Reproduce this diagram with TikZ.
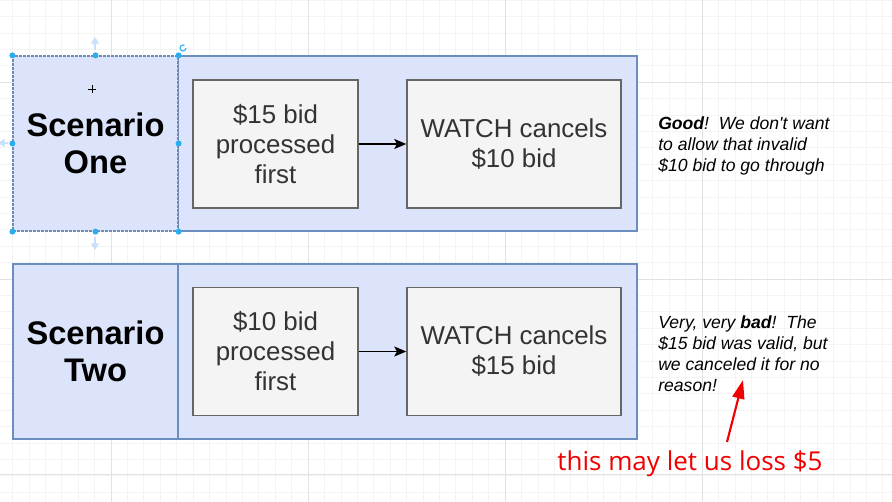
\documentclass[tikz,border=0pt]{standalone}
\usepackage{fontspec}
\setmainfont{Liberation Sans}
\newfontfamily\redfont{Open Sans}
\usetikzlibrary{arrows.meta}
\definecolor{cfill}{RGB}{219,228,250}
\definecolor{cdraw}{RGB}{108,142,191}
\definecolor{bfill}{RGB}{244,244,244}
\definecolor{bdraw}{RGB}{102,102,102}
\definecolor{btext}{RGB}{51,51,51}
\definecolor{gmin}{RGB}{244,244,244}
\definecolor{gmaj}{RGB}{226,226,226}
\definecolor{handle}{RGB}{41,172,240}
\definecolor{handlelt}{RGB}{200,225,250}
\definecolor{redtxt}{RGB}{240,0,0}
\begin{document}
\begin{tikzpicture}[x=0.75pt,y=-0.75pt,
  labelcell/.style={draw=cdraw, fill=cfill, line width=1.1pt, inner sep=0,
     minimum width=123.75pt, minimum height=131.25pt, align=center,
     font=\fontsize{24.5}{28}\selectfont\bfseries},
  container/.style={draw=cdraw, fill=cfill, line width=1.1pt, inner sep=0,
     minimum width=344.25pt, minimum height=131.25pt},
  stepbox/.style={draw=bdraw, fill=bfill, line width=1.1pt, inner sep=0,
     minimum height=96pt, align=center, text=btext,
     font=\fontsize{19.4}{22.5}\selectfont},
  note/.style={anchor=north west, inner sep=0, align=left,
     font=\fontsize{13.2}{15.9}\selectfont\itshape},
  flow/.style={-{Stealth[length=9pt,width=7.5pt,inset=2pt]}, line width=1.1pt, black},
  dot/.style={circle, fill=handle, inner sep=0, minimum size=4.5pt},
  hint/.style={-{Triangle[length=5pt,width=6pt]}, line width=2.2pt, handlelt}
]
\useasboundingbox (0,0) rectangle (892,502);
\fill[white] (0,0) rectangle (892,502);
% grid
\foreach \i in {0,...,54} {\draw[gmin, line width=0.6pt] (12.5+\i*16.42,0) -- (12.5+\i*16.42,502);}
\foreach \i in {0,...,30} {\draw[gmin, line width=0.6pt] (0,0.2+\i*16.4) -- (892,0.2+\i*16.4);}
\foreach \x in {111,308,505,702} {\draw[gmaj, line width=0.7pt] (\x,0) -- (\x,502);}
\foreach \y in {82,279,474} {\draw[gmaj, line width=0.7pt] (0,\y) -- (892,\y);}

% Scenario One
\node[container] (c1) at (407.5,143.5) {};
\node[labelcell, draw=cdraw!80!gray, dash pattern=on 2pt off 1pt, line width=0.9pt] (l1) at (95.5,143.5) {Scenario\\One};
\node[stepbox, minimum width=123.75pt] (a1) at (275.5,144) {\$15 bid\\processed\\first};
\node[stepbox, minimum width=160.5pt] (b1) at (514,144) {WATCH cancels\\\$10 bid};
\draw[flow] (a1) -- (b1);

% Scenario Two
\node[container] (c2) at (407.5,351.5) {};
\node[labelcell] (l2) at (95.5,351.5) {Scenario\\Two};
\node[stepbox, minimum width=123.75pt] (a2) at (275.5,351.5) {\$10 bid\\processed\\first};
\node[stepbox, minimum width=160.5pt] (b2) at (514,351.5) {WATCH cancels\\\$15 bid};
\draw[flow] (a2) -- (b2);

% selection handles on Scenario One label
\foreach \p in {north west,north,north east,west,east,south west,south,south east}
  {\node[dot] at (l1.\p) {};}
\coordinate (up0) at (95,50); \coordinate (up1) at (95,37);
\coordinate (dn0) at (95,237); \coordinate (dn1) at (95,250);
\coordinate (lf0) at (8,143); \coordinate (lf1) at (-2,143);
\draw[hint] (up0) -- (up1);
\draw[hint] (dn0) -- (dn1);
\draw[hint] (lf0) -- (lf1);
\draw[handle, line width=0.8pt] (186,48) arc (0:300:3);
\draw[black, line width=0.6pt] (88,89) -- (96,89) (92,85) -- (92,93);

% notes
\node[note] (n1) at (658,116) {\textbf{Good}!\ \ We don\textquotesingle t want\\to allow that invalid\\\$10 bid to go through};
\node[note] (n2) at (658,315) {Very, very \textbf{bad}!\ \ The\\\$15 bid was valid, but\\we canceled it for no\\reason!};

% red remark
\node[inner sep=0, text=redtxt, font=\redfont\fontsize{19.5}{22}\selectfont] (r) at (690,464) {this may let us loss \$5};
\coordinate (rt) at (743,380);
\draw[redtxt, line width=1.6pt, -{Triangle[length=14pt,width=9pt]}] (727,442) -- (rt);
\end{tikzpicture}
\end{document}
